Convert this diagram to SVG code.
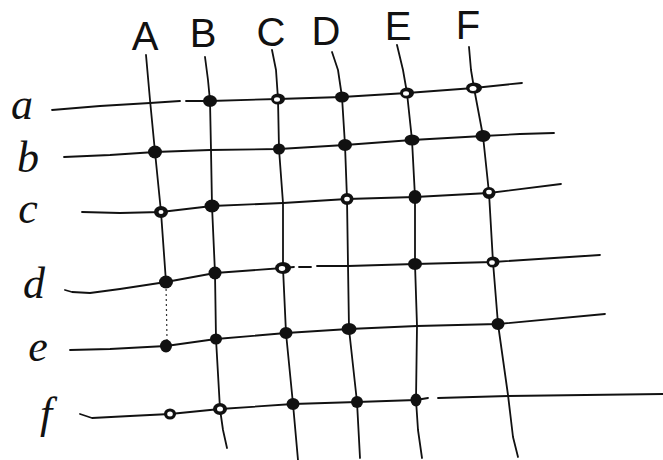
<svg xmlns="http://www.w3.org/2000/svg" width="663" height="460" viewBox="0 0 663 460">
<defs>
<style>
.ln{fill:none;stroke:#111;stroke-width:1.8;stroke-linecap:round;stroke-linejoin:round}
.dt{fill:none;stroke:#333;stroke-width:1.2;stroke-dasharray:2 3}
.f{fill:#111}
.h{fill:#111}
.hi{fill:#fff}
.cap{font-family:"Liberation Sans",Arial,sans-serif;font-size:40px;fill:#111;text-anchor:middle}
.low{font-family:"Liberation Serif","Times New Roman",serif;font-style:italic;font-size:44px;fill:#111;text-anchor:middle}
</style>
</defs>
<rect width="663" height="460" fill="#fff"/>
<g id="column-labels">
<text class="cap" x="145" y="50">A</text>
<text class="cap" x="203" y="47">B</text>
<text class="cap" x="271" y="46">C</text>
<text class="cap" x="326" y="45">D</text>
<text class="cap" x="398" y="40">E</text>
<text class="cap" x="468" y="39">F</text>
</g>
<g id="row-labels">
<text class="low" x="22" y="119">a</text>
<text class="low" x="28" y="172">b</text>
<text class="low" x="28" y="223">c</text>
<text class="low" x="34" y="298">d</text>
<text class="low" x="38" y="361">e</text>
<text class="low" x="46" y="428">f</text>
</g>
<g id="connectors">
<polyline class="ln" points="52,110 100,106 150,103 180,101"/>
<polyline class="ln" points="186,101 210,101 278,99 342,97 407,93 474,88 522,83"/>
<polyline class="ln" points="64,157 110,155 155,152 210,150 279,149 345,145 412,140 483,136 520,134 554,133"/>
<polyline class="ln" points="82,212 120,213 161,212 212,206 283,203 347,199 415,197 489,193 561,184"/>
<polyline class="ln" points="65,290 72,292 90,293 120,289 166,282 215,273 283,268 294,267"/>
<polyline class="ln" points="299,267 311,267"/>
<polyline class="ln" points="317,266 348,266 415,264 493,262 600,255"/>
<polyline class="ln" points="70,350 110,349 166,346 216,339 286,333 349,329 417,326 498,324 605,314"/>
<polyline class="ln" points="80,414 92,418 130,416 170,414 220,409 293,404 357,402 416,400 428,398"/>
<polyline class="ln" points="438,398 508,396 663,394"/>
<polyline class="ln" points="146,55 150,100 155,152 161,212 166,282"/>
<line class="dt" x1="166" y1="284" x2="167" y2="340"/>
<polyline class="ln" points="205,57 208,80 210,101 211,150 212,206 215,273 216,339 220,409 223,430 227,448"/>
<polyline class="ln" points="272,50 276,70 278,99 279,149 283,203 283,268 286,333 293,404 298,460"/>
<polyline class="ln" points="332,52 338,70 342,97 345,145 347,199 348,265 349,329 357,402 360,458"/>
<polyline class="ln" points="397,45 403,70 407,93 412,140 415,197 415,264 417,326 416,400 418,430 422,458"/>
<polyline class="ln" points="469,47 471,70 474,88 483,136 489,193 493,262 498,324 508,395 513,437 518,457"/>
</g>
<g id="row-a">
<ellipse id="aB" class="f" cx="210" cy="101" rx="7" ry="6"/>
<g id="aC"><ellipse class="h" cx="278" cy="99" rx="7" ry="5.5"/><ellipse class="hi" cx="277" cy="99.5" rx="3" ry="2.2"/></g>
<ellipse id="aD" class="f" cx="342" cy="97" rx="7" ry="5.5"/>
<g id="aE"><ellipse class="h" cx="407" cy="93" rx="7" ry="5.5"/><ellipse class="hi" cx="406" cy="93.5" rx="3" ry="2.2"/></g>
<g id="aF"><ellipse class="h" cx="474" cy="88" rx="8" ry="5.5"/><ellipse class="hi" cx="473" cy="88.5" rx="3.5" ry="2.5"/></g>
</g>
<g id="row-b">
<ellipse id="bA" class="f" cx="155" cy="152" rx="7" ry="6.5"/>
<ellipse id="bC" class="f" cx="279" cy="149" rx="6" ry="5.5"/>
<ellipse id="bD" class="f" cx="345" cy="145" rx="7" ry="6"/>
<ellipse id="bE" class="f" cx="412" cy="140" rx="7.5" ry="5.5"/>
<ellipse id="bF" class="f" cx="483" cy="136" rx="7.5" ry="6"/>
</g>
<g id="row-c">
<g id="cA"><ellipse class="h" cx="161" cy="212" rx="7" ry="6"/><ellipse class="hi" cx="161" cy="212" rx="2.5" ry="2"/></g>
<ellipse id="cB" class="f" cx="212" cy="206" rx="7.5" ry="6.5"/>
<g id="cD"><ellipse class="h" cx="347" cy="199" rx="6.5" ry="6"/><ellipse class="hi" cx="347" cy="199" rx="2.8" ry="2.3"/></g>
<ellipse id="cE" class="f" cx="415" cy="197" rx="6.5" ry="7"/>
<g id="cF"><ellipse class="h" cx="489" cy="193" rx="6.5" ry="6"/><ellipse class="hi" cx="489" cy="192" rx="2.8" ry="2.3"/></g>
</g>
<g id="row-d">
<ellipse id="dA" class="f" cx="166" cy="282" rx="7" ry="6.5"/>
<ellipse id="dB" class="f" cx="215" cy="273" rx="6.5" ry="6.5"/>
<g id="dC"><ellipse class="h" cx="283" cy="268" rx="8" ry="6"/><ellipse class="hi" cx="282" cy="268.5" rx="3.2" ry="2.4"/></g>
<ellipse id="dE" class="f" cx="415" cy="264" rx="7" ry="6"/>
<g id="dF"><ellipse class="h" cx="493" cy="262" rx="6.5" ry="5.5"/><ellipse class="hi" cx="492" cy="262.5" rx="2.8" ry="2.3"/></g>
</g>
<g id="row-e">
<ellipse id="eA" class="f" cx="166" cy="346" rx="6" ry="6.5"/>
<ellipse id="eB" class="f" cx="216" cy="339" rx="6" ry="5.5"/>
<ellipse id="eC" class="f" cx="286" cy="333" rx="6.5" ry="6"/>
<ellipse id="eD" class="f" cx="349" cy="329" rx="7.5" ry="6"/>
<ellipse id="eF" class="f" cx="498" cy="324" rx="6.5" ry="6"/>
</g>
<g id="row-f">
<g id="fA"><ellipse class="h" cx="170" cy="414" rx="6" ry="5.5"/><ellipse class="hi" cx="170" cy="414" rx="2.8" ry="2.5"/></g>
<g id="fB"><ellipse class="h" cx="220" cy="409" rx="7" ry="6"/><ellipse class="hi" cx="220" cy="409" rx="3" ry="2.5"/></g>
<ellipse id="fC" class="f" cx="293" cy="404" rx="6.5" ry="6"/>
<ellipse id="fD" class="f" cx="357" cy="402" rx="6" ry="6"/>
<ellipse id="fE" class="f" cx="416" cy="400" rx="5.5" ry="6.5"/>
</g>
</svg>
